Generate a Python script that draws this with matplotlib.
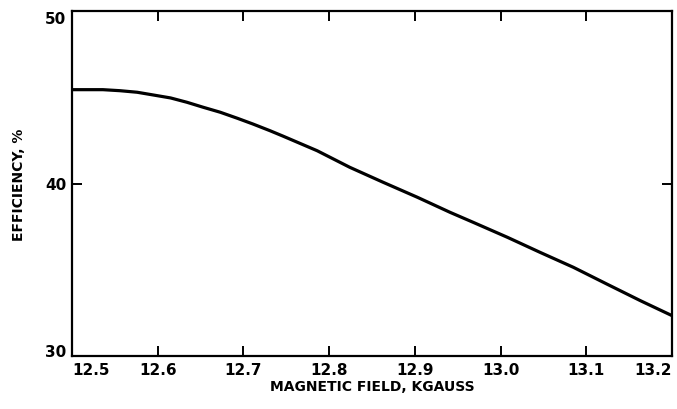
import numpy as np
import matplotlib.pyplot as plt

# values
field = [12.500, 12.536, 12.556, 12.576, 12.595, 12.615, 12.634, 12.653, 12.673,
         12.693, 12.711, 12.731, 12.746, 12.786, 12.824, 12.863, 12.903, 12.941,
         12.968, 13.008, 13.046, 13.085, 13.124, 13.163, 13.200]
efficiency = [45.44, 45.44, 45.38, 45.29, 45.13, 44.96, 44.71, 44.42, 44.13,
              43.78, 43.45, 43.06, 42.75, 41.90, 40.94, 40.07, 39.20, 38.33,
              37.75, 36.88, 36.01, 35.14, 34.17, 33.21, 32.34]
xticks = [12.5, 12.6, 12.7, 12.8, 12.9, 13.0, 13.1, 13.2]
xlabels = ["12.5", "12.6", "12.7", "12.8", "12.9", "13.0", "13.1", "13.2"]
yticks = [30, 40, 50]

fig = plt.figure(figsize=(6.77, 4.10), dpi=100)
ax = fig.add_axes([0.1064, 0.1293, 0.8862, 0.8414])
ax.plot(field, efficiency, color="black", lw=2.3, solid_capstyle="butt")

ax.set_xlim(12.5, 13.2)
ax.set_ylim(30, 50)
ax.set_xticks(xticks)
ax.set_xticklabels(xlabels)
ax.set_yticks(yticks)
for s in ax.spines.values():
    s.set_linewidth(1.6)
ax.tick_params(direction="in", length=7, width=1.4, top=True, right=True,
               labelsize=11, pad=4)
for lab in ax.get_xticklabels() + ax.get_yticklabels():
    lab.set_fontweight("bold")

# end labels sit inside the frame like in the original
xl = ax.get_xticklabels()
xl[0].set_horizontalalignment("left")
xl[-1].set_horizontalalignment("right")
yl = ax.get_yticklabels()
yl[0].set_verticalalignment("baseline")
yl[-1].set_verticalalignment("top")

ax.set_xlabel("MAGNETIC FIELD, KGAUSS", fontsize=10, fontweight="bold", labelpad=2)
ax.set_ylabel("EFFICIENCY, %", fontsize=10, fontweight="bold", labelpad=14)

fig.savefig("out.png", dpi=100)
plt.close()
